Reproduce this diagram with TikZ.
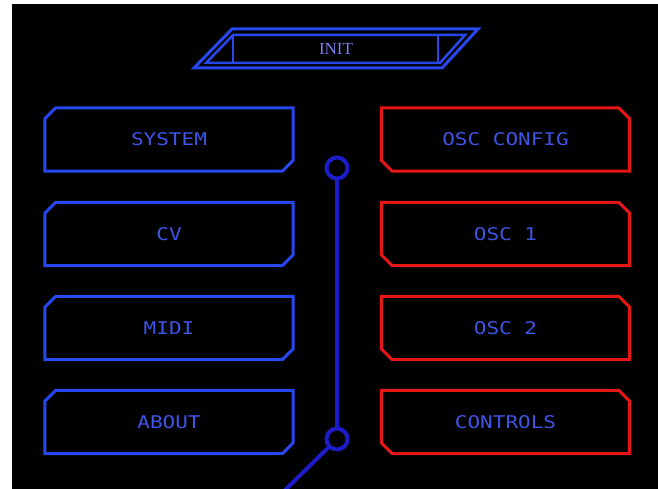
\documentclass[tikz,border=0pt]{standalone}
\usepackage{fontspec}
\usetikzlibrary{calc}
\newfontfamily\uifont[FakeStretch=1.2]{DejaVu Sans Mono}
\newfontfamily\titlefont{Liberation Serif}
\definecolor{panelblue}{RGB}{38,72,238}
\definecolor{panelred}{RGB}{228,22,22}
\definecolor{wireblue}{RGB}{28,28,200}
\definecolor{labelblue}{RGB}{62,84,228}
\definecolor{titleblue}{RGB}{120,125,240}

% chamfered frame, cut at top-left and bottom-right
\newcommand\frameNWSE[2]{%
  \draw[frame,#2] ($(#1.north west)+(0,-11pt)$) -- ($(#1.north west)+(11pt,0)$)
    -- (#1.north east) -- ($(#1.south east)+(0,11pt)$)
    -- ($(#1.south east)+(-11pt,0)$) -- (#1.south west) -- cycle;}
% chamfered frame, cut at top-right and bottom-left
\newcommand\frameNESW[2]{%
  \draw[frame,#2] (#1.north west) -- ($(#1.north east)+(-11pt,0)$)
    -- ($(#1.north east)+(0,-11pt)$) -- (#1.south east)
    -- ($(#1.south west)+(11pt,0)$) -- ($(#1.south west)+(0,11pt)$) -- cycle;}

\begin{document}
\begin{tikzpicture}[x=1pt,y=-1pt,
  menubtn/.style={rectangle, minimum width=248pt, minimum height=63pt,
    inner sep=0pt, text=labelblue, font=\uifont\fontsize{17.5}{20}\selectfont},
  frame/.style={line width=3pt, line join=miter,
    preaction={draw, line width=8pt, opacity=0.2}},
  bannerline/.style={panelblue, line width=3pt, line join=miter,
    preaction={draw, line width=8pt, opacity=0.2}},
  bannerinner/.style={panelblue, line width=2.5pt, line join=miter},
  knob/.style={circle, draw=wireblue, line width=4pt, minimum size=21pt, inner sep=0pt},
  wire/.style={wireblue, line width=4pt}]

% canvas
\useasboundingbox (0,0) rectangle (658,489);
\fill[white] (0,0) rectangle (658,489);
\fill[black] (12,4) rectangle (658,489);

% title banner
\draw[bannerline] (232,29) -- (478,29) -- (442,68) -- (194,68) -- cycle;
\draw[bannerinner] (233,35) -- (465,35) -- (440,63) -- (206,63) -- cycle;
\draw[bannerinner] (233,35) -- (233,63);
\draw[bannerinner] (438,35) -- (438,63);
\node[text=titleblue, font=\titlefont\fontsize{17}{20}\selectfont] (init) at (336,49) {INIT};

% left column
\node[menubtn] (system) at (169,139.5) {SYSTEM};
\node[menubtn] (cv)     at (169,234)   {CV};
\node[menubtn] (midi)   at (169,328)   {MIDI};
\node[menubtn] (about)  at (169,422)   {ABOUT};
\foreach \n in {system,cv,midi,about} {\frameNWSE{\n}{panelblue}}

% right column
\node[menubtn] (oscconfig) at (505.5,139.5) {OSC CONFIG};
\node[menubtn] (osc1)      at (505.5,234)   {OSC 1};
\node[menubtn] (osc2)      at (505.5,328)   {OSC 2};
\node[menubtn] (controls)  at (505.5,422)   {CONTROLS};
\foreach \n in {oscconfig,osc1,osc2,controls} {\frameNESW{\n}{panelred}}

% central rail
\node[knob] (railtop) at (337,168) {};
\node[knob] (railbot) at (337,439) {};
\coordinate (railend) at (280,495);
\draw[wire] (railtop) -- (railbot);
\draw[wire] (railbot) -- (railend);
\end{tikzpicture}
\end{document}
